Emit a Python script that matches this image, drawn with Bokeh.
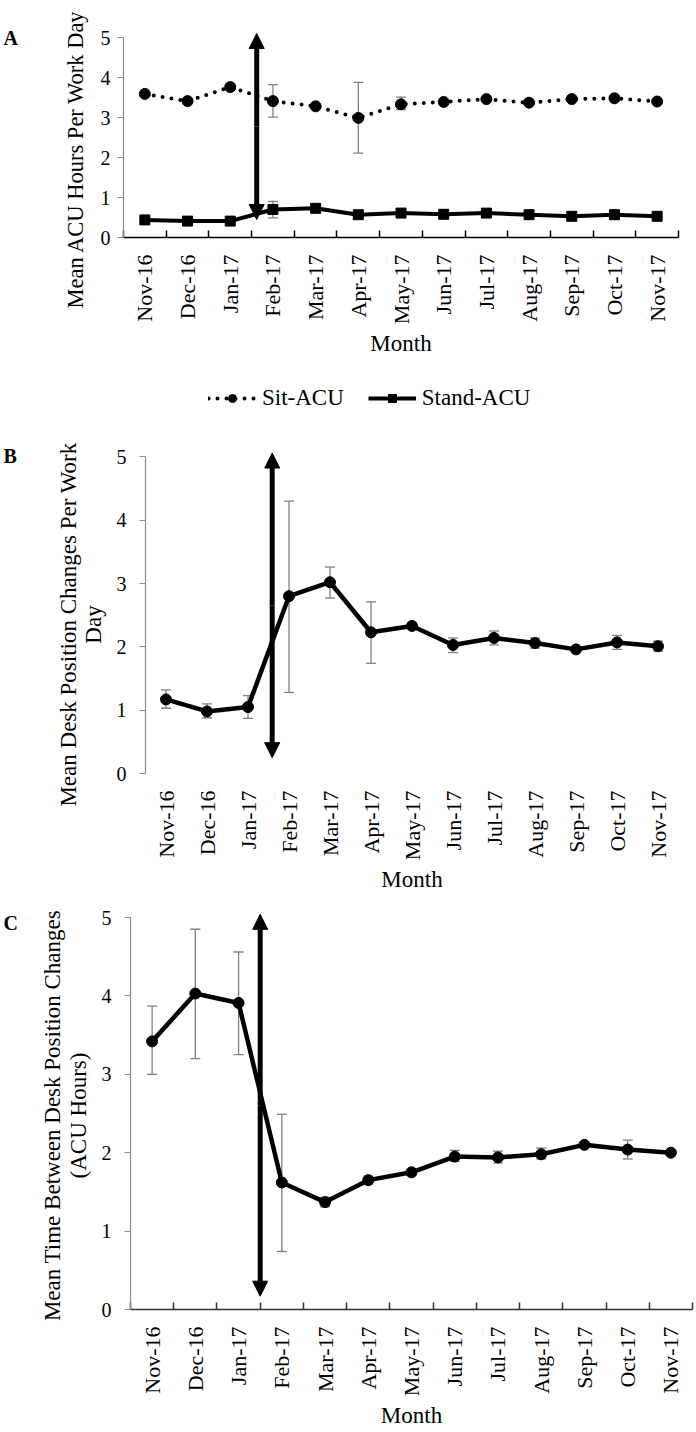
from math import pi
from bokeh.plotting import figure
from bokeh.layouts import column
from bokeh.models import (Range1d, FixedTicker, Whisker, ColumnDataSource, Arrow, NormalHead,
                          TeeHead, Legend, LegendItem, CustomJSTickFormatter, Label)
from bokeh.embed import file_html
from bokeh.resources import INLINE

FONT = "Liberation Serif"

# ---------------- data ----------------
months = ["Nov-16", "Dec-16", "Jan-17", "Feb-17", "Mar-17", "Apr-17", "May-17",
          "Jun-17", "Jul-17", "Aug-17", "Sep-17", "Oct-17", "Nov-17"]

# Panel A: mean ACU hours per work day
sit_acu    = [3.59, 3.41, 3.76, 3.41, 3.28, 2.99, 3.33, 3.39, 3.46, 3.37, 3.46, 3.48, 3.40]
sit_lo     = [3.55, 3.37, 3.70, 3.01, 3.24, 2.11, 3.20, 3.35, 3.42, 3.33, 3.42, 3.44, 3.36]
sit_hi     = [3.63, 3.45, 3.82, 3.82, 3.32, 3.88, 3.51, 3.43, 3.50, 3.41, 3.50, 3.52, 3.44]
stand_acu  = [0.44, 0.41, 0.41, 0.70, 0.73, 0.57, 0.61, 0.58, 0.61, 0.57, 0.53, 0.57, 0.53]
stand_lo   = [0.41, 0.38, 0.38, 0.49, 0.69, 0.54, 0.58, 0.55, 0.58, 0.54, 0.50, 0.54, 0.50]
stand_hi   = [0.47, 0.44, 0.44, 0.90, 0.77, 0.60, 0.64, 0.61, 0.64, 0.60, 0.56, 0.60, 0.56]

# Panel B: mean desk position changes per work day
changes    = [1.17, 0.98, 1.05, 2.80, 3.02, 2.23, 2.33, 2.03, 2.14, 2.06, 1.96, 2.07, 2.01]
changes_lo = [1.03, 0.88, 0.87, 1.28, 2.77, 1.74, 2.28, 1.91, 2.03, 1.98, 1.93, 1.96, 1.93]
changes_hi = [1.32, 1.10, 1.23, 4.30, 3.26, 2.71, 2.38, 2.14, 2.25, 2.14, 1.99, 2.18, 2.09]

# Panel C: mean time between desk position changes (ACU hours)
between    = [3.42, 4.03, 3.91, 1.62, 1.37, 1.65, 1.75, 1.95, 1.94, 1.98, 2.10, 2.04, 2.00]
between_lo = [3.00, 3.20, 3.25, 0.74, 1.31, 1.60, 1.71, 1.89, 1.87, 1.92, 2.07, 1.92, 1.98]
between_hi = [3.87, 4.85, 4.56, 2.49, 1.43, 1.70, 1.79, 2.03, 2.02, 2.06, 2.13, 2.16, 2.02]

y_ticks = [0, 1, 2, 3, 4, 5]

# intervention arrow (between Jan-17 and Feb-17): x, bottom, top per panel
arrow_A = (3.12, 0.45, 5.10)
arrow_B = (3.09, 0.25, 5.06)
arrow_C = (3.00, 0.17, 5.04)

x_pos = [i + 0.5 for i in range(len(months))]

# ---------------- layout geometry (page pixels) ----------------
# fig_top/fig_bottom: figure extent; left/right: x-axis extent; y0: page y of value 0; ppu: px per unit
GA = dict(fig_top=0, fig_bottom=425, left=123, right=678, y0=237, ppu=40.0)
GB = dict(fig_top=425, fig_bottom=896, left=145, right=678, y0=773, ppu=63.33)
GC = dict(fig_top=896, fig_bottom=1432, left=130, right=692, y0=1309, ppu=78.4)
PAGE_LEFT, PAGE_RIGHT = 0, 696


def px2data(g, px, py):
    bw = (g["right"] - g["left"]) / 13.0
    return (px - g["left"]) / bw, (g["y0"] - py) / g["ppu"]


def make_fig(g, tick_standoff, xaxis_color):
    x0, y1 = px2data(g, PAGE_LEFT, g["fig_top"])
    x1, y0 = px2data(g, PAGE_RIGHT, g["fig_bottom"])
    p = figure(width=PAGE_RIGHT - PAGE_LEFT, height=g["fig_bottom"] - g["fig_top"],
               output_backend="svg", toolbar_location=None,
               x_range=Range1d(x0, x1), y_range=Range1d(y0, y1),
               min_border_left=0, min_border_right=0, min_border_top=0, min_border_bottom=0)
    p.outline_line_color = None
    p.grid.visible = False
    p.background_fill_color = "white"
    p.border_fill_color = "white"

    xa = p.xaxis[0]
    xa.fixed_location = 0
    xa.bounds = (0, 13)
    xa.ticker = FixedTicker(ticks=x_pos, minor_ticks=list(range(14)))
    xa.formatter = CustomJSTickFormatter(args=dict(months=months),
                                         code="return months[Math.round(tick - 0.5)] || '';")
    xa.major_label_orientation = pi / 2
    xa.major_tick_line_color = None
    xa.minor_tick_in = 7
    xa.minor_tick_out = 0
    xa.minor_tick_line_color = xaxis_color
    xa.minor_tick_line_width = 1.5
    xa.axis_line_color = xaxis_color
    xa.axis_line_width = 1.5
    xa.major_label_text_font = FONT
    xa.major_label_text_font_size = "22px"
    xa.major_label_text_color = "black"
    xa.major_label_standoff = 11
    xa.axis_label = "Month"
    xa.axis_label_text_font = FONT
    xa.axis_label_text_font_size = "23px"
    xa.axis_label_text_font_style = "normal"
    xa.axis_label_text_color = "black"
    xa.axis_label_standoff = 4

    ya = p.yaxis[0]
    ya.fixed_location = 0
    ya.ticker = FixedTicker(ticks=y_ticks)
    ya.bounds = (0, 5)
    ya.axis_line_color = "#8a8a8a"
    ya.axis_line_width = 1.2
    ya.major_tick_line_color = "#8a8a8a"
    ya.major_tick_line_width = 1.2
    ya.major_tick_in = 0
    ya.major_tick_out = 6
    ya.minor_tick_line_color = None
    ya.major_label_text_font = FONT
    ya.major_label_text_font_size = "20px"
    ya.major_label_text_color = "black"
    ya.major_label_standoff = tick_standoff
    return p


def add_text(p, g, text, px, py, angle=0.0, align="left", baseline="alphabetic",
             size="23px", style="normal", line_height=1.0):
    x, y = px2data(g, px, py)
    p.add_layout(Label(x=x, y=y, text=text, angle=angle, text_align=align,
                       text_baseline=baseline, text_font=FONT, text_font_size=size,
                       text_font_style=style, text_color="black",
                       text_line_height=line_height))


def add_whisker(p, lo, hi):
    src = ColumnDataSource(dict(x=x_pos, lo=lo, hi=hi))
    w = Whisker(base="x", lower="lo", upper="hi", source=src,
                line_color="#808080", line_width=1.3,
                upper_head=TeeHead(size=10, line_color="#808080", line_width=1.3),
                lower_head=TeeHead(size=10, line_color="#808080", line_width=1.3))
    p.add_layout(w)


def add_arrow(p, spec):
    ax, y0, y1 = spec
    for tip in (y1, y0):
        p.add_layout(Arrow(x_start=ax, y_start=(y0 + y1) / 2, x_end=ax, y_end=tip,
                           line_width=5, line_color="black",
                           end=NormalHead(size=15, fill_color="black", line_color="black",
                                          line_width=1)))


# ---------------- Panel A ----------------
pA = make_fig(GA, 7, "black")
add_whisker(pA, sit_lo, sit_hi)
add_whisker(pA, stand_lo, stand_hi)
sit_line = pA.line(x_pos, sit_acu, line_color="black", line_width=4, line_dash="0 9", line_cap="round")
sit_pts = pA.scatter(x_pos, sit_acu, marker="circle", size=11, fill_color="black", line_color="black")
stand_line = pA.line(x_pos, stand_acu, line_color="black", line_width=4)
stand_pts = pA.scatter(x_pos, stand_acu, marker="square", size=10, fill_color="black", line_color="black")
add_arrow(pA, arrow_A)
add_text(pA, GA, "Mean  ACU Hours Per Work Day", 75, 308, angle=pi / 2, size="22.5px")
add_text(pA, GA, "A", 3, 37, size="20px", style="bold")

legend = Legend(items=[LegendItem(label="Sit-ACU", renderers=[sit_line, sit_pts]),
                       LegendItem(label="Stand-ACU", renderers=[stand_line, stand_pts])],
                orientation="horizontal",
                location=(208 - PAGE_LEFT, GA["fig_bottom"] - 411),
                label_text_font=FONT, label_text_font_size="23px", label_text_color="black",
                glyph_width=48, glyph_height=20, label_standoff=6, spacing=24,
                border_line_color=None, background_fill_alpha=0, margin=0, padding=0)
pA.add_layout(legend)

# ---------------- Panel B ----------------
pB = make_fig(GB, 13, None)
add_whisker(pB, changes_lo, changes_hi)
pB.line(x_pos, changes, line_color="black", line_width=4.5)
pB.scatter(x_pos, changes, marker="circle", size=11, fill_color="black", line_color="black")
add_arrow(pB, arrow_B)
add_text(pB, GB, "Mean Desk Position Changes Per Work\nDay", 80, 624, angle=pi / 2,
         align="center", baseline="middle", line_height=1.0)
add_text(pB, GB, "B", 3, 455, size="20px", style="bold")

# ---------------- Panel C ----------------
pC = make_fig(GC, 13, "#333333")
add_whisker(pC, between_lo, between_hi)
pC.line(x_pos, between, line_color="black", line_width=4.5)
pC.scatter(x_pos, between, marker="circle", size=11, fill_color="black", line_color="black")
add_arrow(pC, arrow_C)
add_text(pC, GC, "Mean Time Between Desk Position Changes\n(ACU Hours)", 65, 1115, angle=pi / 2,
         align="center", baseline="middle", line_height=1.05)
add_text(pC, GC, "C", 3, 922, size="20px", style="bold")

layout = column(pA, pB, pC, spacing=0)
open("out.html", "w").write(file_html(layout, INLINE))
